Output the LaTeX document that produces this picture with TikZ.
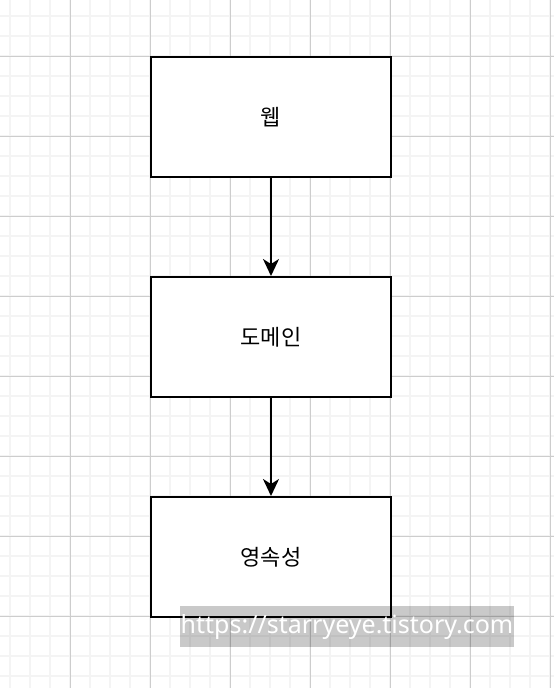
\documentclass[tikz,border=0pt]{standalone}
\usepackage{fontspec}
\setmainfont{Noto Sans}
\newfontfamily\krfont{Noto Sans CJK KR}
\usetikzlibrary{arrows.meta}

\definecolor{minorgrid}{HTML}{F4F4F4}
\definecolor{majorgrid}{HTML}{CDCDCD}

\tikzset{
  layerbox/.style={draw=black, line width=2pt, fill=white, minimum width=240pt,
    minimum height=120pt, inner sep=0pt, font=\krfont\fontsize{22}{24}\selectfont},
  layerarrow/.style={line width=2pt, -{Stealth[length=17pt, width=16pt, inset=5pt]}},
}

\begin{document}
\begin{tikzpicture}[x=1pt, y=-1pt]
\def\boxx{271}

\useasboundingbox (0,0) rectangle (554,688);
\fill[white] (0,0) rectangle (554,688);

% MINOR GRID
\foreach \gx in {10,30,...,550} \draw[minorgrid, line width=2pt] (\gx,0) -- (\gx,688);
\foreach \gy in {16,36,...,676} \draw[minorgrid, line width=2pt] (0,\gy) -- (554,\gy);

% MAJOR GRID
\foreach \gx in {70,150,...,550} \draw[majorgrid, line width=1pt] (\gx,0) -- (\gx,688);
\foreach \gy in {56,136,...,616} \draw[majorgrid, line width=1pt] (0,\gy) -- (554,\gy);

% LAYERS
\node[layerbox] (web) at (\boxx,117) {웹};
\node[layerbox] (domain) at (\boxx,337) {도메인};
\node[layerbox] (persist) at (\boxx,557) {영속성};

\draw[layerarrow] (web) -- (domain);
\draw[layerarrow] (domain) -- (persist);

% WATERMARK
\node[fill=black, fill opacity=0.21, text opacity=1, text=white, inner sep=0pt,
  minimum height=41pt, minimum width=334pt, font=\fontsize{25}{28}\selectfont]
  (mark) at (347,626.5) {https://starryeye.tistory.com};
\end{tikzpicture}
\end{document}
